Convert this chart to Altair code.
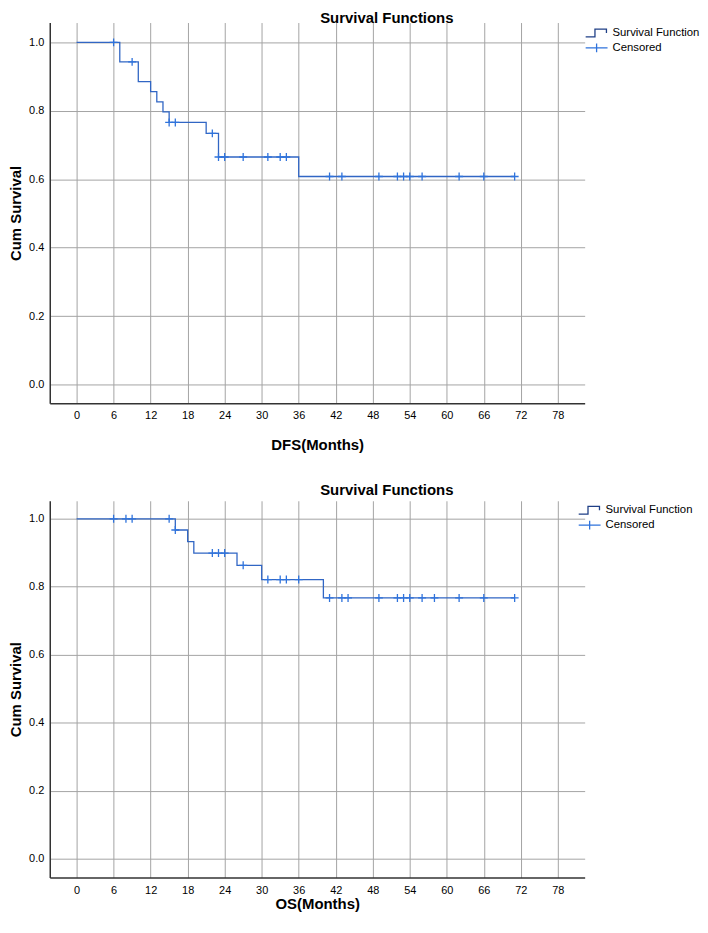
import altair as alt
import pandas as pd

# ---- data ----
# DFS: event (drop) times and survival after the drop
dfs_event_t = [0, 7, 10, 12, 13, 14, 15, 21, 23, 36, 71]
dfs_event_s = [1.0, 0.943, 0.885, 0.856, 0.826, 0.797, 0.766, 0.734, 0.665, 0.608, 0.608]
dfs_cens_t = [6, 9, 15, 16, 22, 23, 24, 27, 31, 33, 34, 41, 43, 49, 52, 53, 54, 56, 62, 66, 71]

# OS
os_event_t = [0, 16, 18, 19, 26, 30, 40, 71]
os_event_s = [1.0, 0.967, 0.933, 0.899, 0.863, 0.821, 0.767, 0.767]
os_cens_t = [6, 8, 9, 15, 16, 22, 23, 24, 27, 31, 33, 34, 36, 41, 43, 44, 49, 52, 53, 54, 56, 58, 62, 66, 71]

x_ticks = [0, 6, 12, 18, 24, 30, 36, 42, 48, 54, 60, 66, 72, 78]
y_ticks = [0.0, 0.2, 0.4, 0.6, 0.8, 1.0]
series_names = ["Survival Function", "Censored"]

LINE_COLOR = "#3166c4"
LEG_LINE_COLOR = "#1f3f86"
CROSS_COLOR = "#2f73dc"
FONT = "Liberation Sans"
CROSS = "M-1,0L1,0M0,-1L0,1"
LEG_STEP = "M-1,0.35L-0.15,0.35L-0.15,-0.35L0.9,-0.35L0.9,0"
LEG_CROSS = "M-1,0L1,0M0,-0.4L0,0.4"


def surv_at(t, ts, ss):
    val = ss[0]
    for ti, si in zip(ts, ss):
        if ti <= t:
            val = si
    return val


def make_legend(leg_x, leg_y):
    return alt.Legend(
        title=None, orient="none", legendX=leg_x, legendY=leg_y,
        padding=0, symbolSize=484, clipHeight=15, rowPadding=0,
        labelFontSize=11.4, labelFont=FONT, labelColor="#000",
        labelOffset=4, symbolStrokeWidth=1.3, symbolOpacity=1,
    )


def panel(ev_t, ev_s, c_t, xtitle, height, ydom, title_offset, leg_x, leg_y,
          xlabel_pad, xtitle_pad):
    line_df = pd.DataFrame({"t": ev_t, "s": ev_s})
    cens_df = pd.DataFrame({
        "t": c_t,
        "s": [surv_at(t, ev_t, ev_s) for t in c_t],
    })
    leg_df = pd.DataFrame({"series": series_names})
    x = alt.X("t:Q",
              scale=alt.Scale(domain=[-4.35, 82.35], nice=False, zero=False),
              axis=alt.Axis(values=x_ticks, title=xtitle, labelPadding=xlabel_pad,
                            titlePadding=xtitle_pad, labelFlush=False))
    y = alt.Y("s:Q",
              scale=alt.Scale(domain=ydom, nice=False, zero=False),
              axis=alt.Axis(values=y_ticks, format=".1f", title="Cum Survival",
                            labelPadding=6, titlePadding=5))
    line = alt.Chart(line_df).mark_line(
        interpolate="step-after", color=LINE_COLOR, strokeWidth=1.3
    ).encode(x=x, y=y)
    pts = alt.Chart(cens_df).mark_point(
        shape=CROSS, size=64, filled=False, strokeWidth=1.3, opacity=1,
        color=CROSS_COLOR
    ).encode(x="t:Q", y="s:Q")
    # legend-only layer: its rows are filtered out, the legend comes from explicit domains
    leg = alt.Chart(leg_df).mark_point(filled=False, strokeWidth=1.3, opacity=1).encode(
        color=alt.Color("series:N",
                        scale=alt.Scale(domain=series_names,
                                        range=[LEG_LINE_COLOR, CROSS_COLOR]),
                        legend=make_legend(leg_x, leg_y)),
        shape=alt.Shape("series:N",
                        scale=alt.Scale(domain=series_names,
                                        range=[LEG_STEP, LEG_CROSS]),
                        legend=make_legend(leg_x, leg_y)),
    ).transform_filter("datum.series == 'none'")
    return alt.layer(line, pts, leg).properties(
        width=538, height=height,
        title=alt.Title("Survival Functions", font=FONT, fontSize=15,
                        fontWeight="bold", color="#000", anchor="middle",
                        frame="group", dx=70, offset=title_offset),
    )


top = panel(dfs_event_t, dfs_event_s, dfs_cens_t, "DFS(Months)", 383,
            [-0.055, 1.058], -3, 538, 3, 6, 17)
bottom = panel(os_event_t, os_event_s, os_cens_t, "OS(Months)", 379,
               [-0.056, 1.053], 3, 531, 2, 7, 1)

chart = alt.vconcat(top, bottom, spacing=31).resolve_scale(
    color="independent", shape="independent"
).resolve_legend(color="independent", shape="independent").properties(
    padding=0
).configure_view(strokeWidth=0).configure_axis(
    labelFont=FONT, titleFont=FONT, labelFontSize=11, titleFontSize=15,
    titleFontWeight="bold", labelColor="#000", titleColor="#000",
    gridColor="#a3a3a3", gridWidth=1, domainColor="#333333", domainWidth=1.5,
    ticks=False,
)

chart.save("out.html", embed_options={"renderer": "svg", "actions": False})
